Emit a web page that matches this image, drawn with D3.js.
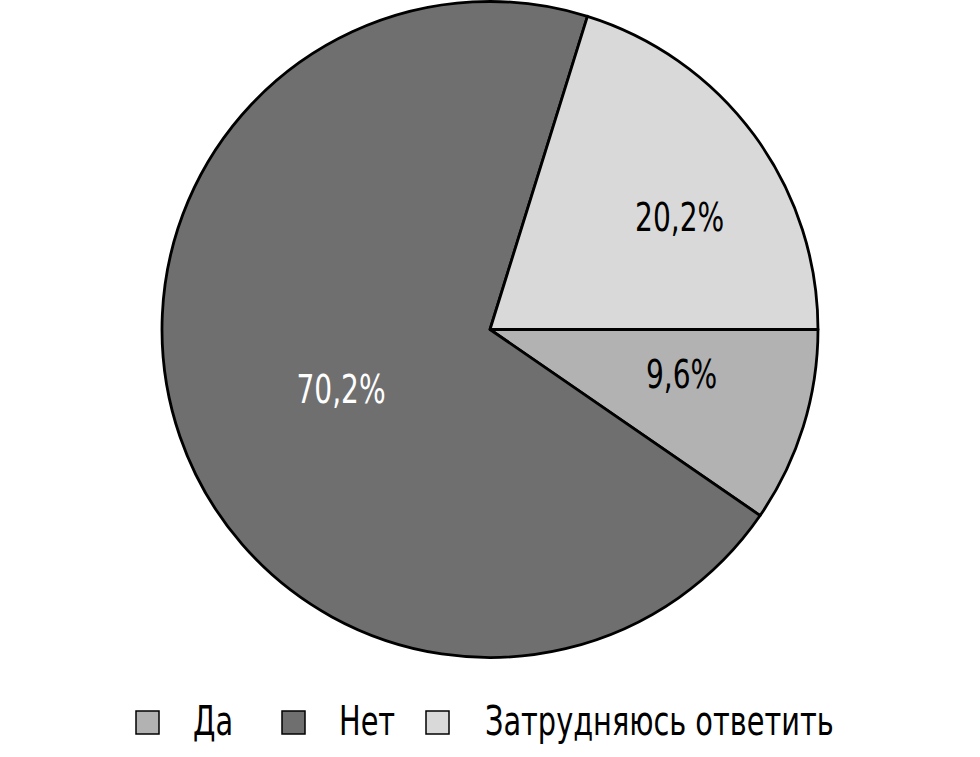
<!DOCTYPE html>
<html>
<head>
<meta charset="utf-8">
<script src="https://cdn.jsdelivr.net/npm/d3@7"></script>
<style>
  body { margin: 0; background: #fff; }
  text { font-family: "DejaVu Sans Condensed", "DejaVu Sans", sans-serif; font-stretch: condensed; }
</style>
</head>
<body>
<svg width="980" height="757"></svg>
<script>
var categories = ['Да', 'Нет', 'Затрудняюсь ответить']
var values = [9.6, 70.2, 20.2]
var valueLabels = ['9,6%', '70,2%', '20,2%']
var colors = ['#b2b2b2', '#6f6f6f', '#d9d9d9']
var labelColors = ['#000', '#fff', '#000']

var svg = d3.select('svg')
var cx = 490, cy = 329.5, r = 328
var squeeze = 0.8  // narrow the font to match the condensed face

var pie = d3.pie()
    .sort(null)
    .startAngle(Math.PI / 2)
    .endAngle(Math.PI / 2 + 2 * Math.PI)
    .value(function(d) { return d })

var arc = d3.arc().innerRadius(0).outerRadius(r)

var arcs = pie(values)

var g = svg.append('g').attr('transform', 'translate(' + cx + ',' + cy + ')')

g.selectAll('path')
    .data(arcs)
    .enter()
    .append('path')
    .attr('d', arc)
    .attr('fill', function(d, i) { return colors[i] })
    .attr('stroke', '#000')
    .attr('stroke-width', 2.8)
    .attr('stroke-linejoin', 'round')

// label placement: radius fraction and angle nudge (degrees), per slice
var labelPlace = [{ f: 0.6, da: -4 }, { f: 0.49, da: -3 }, { f: 0.67, da: 6 }]

g.selectAll('text.val')
    .data(arcs)
    .enter()
    .append('text')
    .attr('class', 'val')
    .attr('text-anchor', 'middle')
    .attr('font-size', '39px')
    .attr('fill', function(d, i) { return labelColors[i] })
    .attr('transform', function(d, i) {
      var a = (d.startAngle + d.endAngle) / 2 + labelPlace[i].da * Math.PI / 180
      var rr = r * labelPlace[i].f
      return 'translate(' + (rr * Math.sin(a)) + ',' + (-rr * Math.cos(a) + 13) + ') scale(' + squeeze + ',1)'
    })
    .text(function(d, i) { return valueLabels[i] })

var legendX = [136, 282, 426]
var legend = svg.selectAll('g.leg')
    .data(categories)
    .enter()
    .append('g')
    .attr('class', 'leg')
    .attr('transform', function(d, i) { return 'translate(' + legendX[i] + ',711)' })

legend.append('rect')
    .attr('width', 23)
    .attr('height', 23)
    .attr('fill', function(d, i) { return colors[i] })
    .attr('stroke', '#000')
    .attr('stroke-width', 1.5)

legend.append('text')
    .attr('transform', function(d, i) { return 'translate(' + (i == 2 ? 59 : 57) + ',24) scale(' + squeeze + ',1)' })
    .attr('font-size', '40px')
    .text(function(d) { return d })
</script>
</body>
</html>
